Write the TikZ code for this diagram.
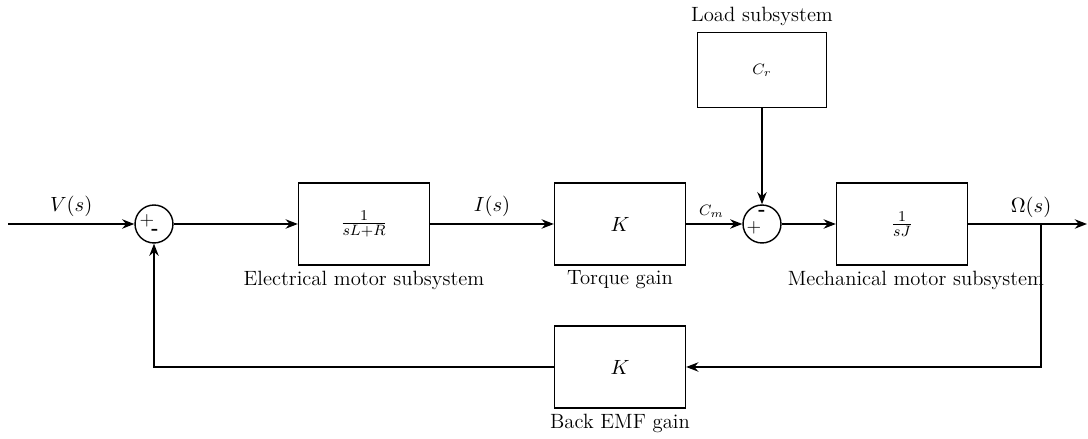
\documentclass[tikz,border=0pt]{standalone}
\usepackage{amsmath}
\usetikzlibrary{arrows.meta,positioning,calc}
\tikzset{
  block/.style={draw, line width=0.75pt, minimum width=2.45cm, minimum height=1.53cm},
  sumnode/.style={draw, circle, line width=0.75pt, minimum size=0.71cm, inner sep=0pt},
  sig/.style={-{Stealth[length=6.5pt,width=5pt]}, line width=0.75pt},
  lab/.style={font=\fontsize{11}{13}\selectfont},
  sgn/.style={font=\fontsize{10}{12}\selectfont, inner sep=0pt},
}
\begin{document}
\begin{tikzpicture}[x=0.0187cm, y=-0.0187cm, font=\fontsize{11}{13}\selectfont]
  \useasboundingbox (0,0) rectangle (1088,439);

  % forward path
  \coordinate (in) at (8,224);
  \node[sumnode] (sum1) at (154,224) {};
  \node[sgn] at (147,221) {$+$};
  \node[sgn] at (155,232) {\textbf{-}};
  \node[block] (elec) at (364,224) {$\frac{1}{sL+R}$};
  \node[lab] at (364,280) {Electrical motor subsystem};
  \node[block] (torq) at (620,224) {$K$};
  \node[lab] at (620,280) {Torque gain};
  \node[sumnode] (sum2) at (762,224) {};
  \node[sgn] at (754,228) {$+$};
  \node[sgn] at (762,213) {\textbf{-}};
  \node[block] (mech) at (902,224) {$\frac{1}{sJ}$};
  \node[lab] at (916,280) {Mechanical motor subsystem};
  \coordinate (out) at (1087,224);
  \coordinate (br) at (1041,224);

  % load
  \node[block, minimum width=2.41cm, minimum height=1.40cm] (load) at (762,70) {\footnotesize $C_r$};
  \node[lab] at (762,16) {Load subsystem};

  % feedback
  \node[block] (emf) at (620,367) {$K$};
  \node[lab] at (620,423) {Back EMF gain};

  \draw[sig] (in) -- node[above] {$V(s)$} (sum1);
  \draw[sig] (sum1) -- (elec);
  \draw[sig] (elec) -- node[above] {$I(s)$} (torq);
  \draw[sig] (torq) -- node[above, pos=0.45] {\footnotesize $C_m$} (sum2);
  \draw[sig] (sum2) -- (mech);
  \draw[sig] (mech) -- (out);
  \node[lab, above] at (1031,224) {$\Omega(s)$};
  \draw[sig] (load) -- (sum2);
  \draw[sig] (br) |- (emf);
  \draw[sig] (emf) -| (sum1);
\end{tikzpicture}
\end{document}
